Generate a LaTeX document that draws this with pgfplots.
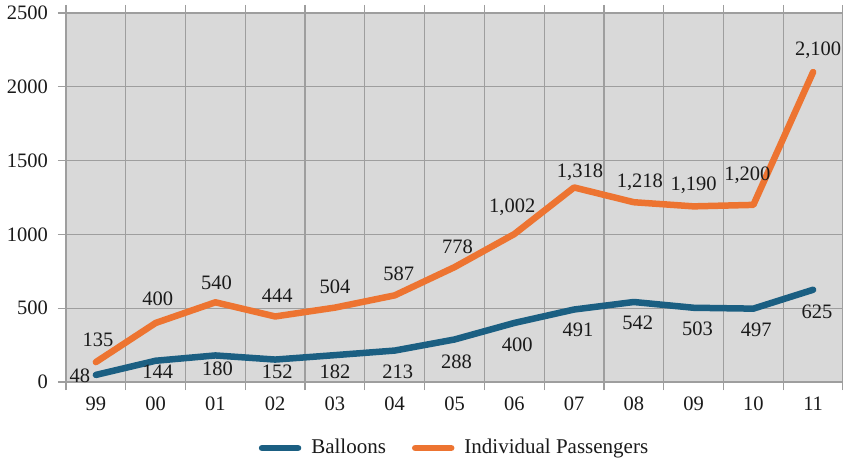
\documentclass[border=0pt]{standalone}
\usepackage{pgfplots}
\pgfplotsset{compat=1.18}
\usepackage{pgfplotstable}
\usepackage{fontspec}
\setmainfont{Liberation Serif}
\definecolor{cblue}{HTML}{1B5F82}
\definecolor{corange}{HTML}{ED7431}
\definecolor{cgrid}{HTML}{9E9E9E}
\definecolor{cbg}{HTML}{D9D9D9}
\definecolor{ctext}{HTML}{1A1A1A}
\pgfplotstableread{
x y dx dy
0 135 2 22
1 400 2 24
2 540 1 20
3 444 2 21
4 504 0 21
5 587 4 22
6 778 3 20
7 1002 -2 27
8 1318 6 15
9 1218 6 20
10 1190 0 21
11 1200 -6 30
12 2100 5 22
}\passengers
\pgfplotstableread{
x y dx dy
0 48 -16 -1
1 144 2 -11
2 180 2 -13
3 152 2 -12
4 182 0 -17
5 213 3 -21
6 288 2 -22
7 400 3 -22
8 491 4 -20
9 542 4 -21
10 503 4 -21
11 497 3 -21
12 625 4 -22
}\balloons
\begin{document}
\fontsize{20.5}{24}\selectfont
\begin{tikzpicture}
\begin{axis}[
  scale only axis,
  width=777pt, height=369pt,
  xmin=-0.5, xmax=12.5, ymin=0, ymax=2500,
  axis background/.style={fill=cbg},
  axis line style={draw=none},
  /pgf/number format/assume math mode=true,
  xtick={0,...,12},
  xticklabels={99,00,01,02,03,04,05,06,07,08,09,10,11},
  minor xtick={-0.5,0.5,...,12.5},
  ytick={0,500,1000,1500,2000,2500},
  yticklabel style={/pgf/number format/1000 sep={}, xshift=-3pt},
  tick align=outside,
  major tick length=8pt,
  minor tick length=8pt,
  every major x tick/.append style={draw=none},
  every minor x tick/.append style={draw=cgrid, line width=1.3pt},
  every major y tick/.append style={draw=cgrid, line width=1.3pt},
  xminorgrids=true, xmajorgrids=false, ymajorgrids=true,
  minor grid style={cgrid, line width=1.3pt},
  major grid style={cgrid, line width=1.3pt},
  tick label style={text=ctext, font=\fontsize{20.5}{24}\selectfont},
  legend style={at={(0.5,-0.179)}, anchor=center, draw=none, fill=none,
    legend columns=2, font=\fontsize{21}{25}\selectfont, text=ctext,
    /tikz/every even column/.append style={column sep=24pt}},
  legend image code/.code={\draw[#1, line cap=round] (0pt,0pt) -- (36pt,0pt); \path (44pt,0pt);},
  clip=false,
]
\addplot[cblue, line width=6.5pt, line cap=round, line join=round,
  nodes near coords, point meta=explicit,
  visualization depends on={\thisrow{dx} \as \dx},
  visualization depends on={\thisrow{dy} \as \dy},
  every node near coord/.append style={anchor=center, xshift=\dx pt, yshift=\dy pt, text=ctext, font=\fontsize{20.5}{24}\selectfont},
  forget plot] table[x=x, y=y, meta=y] {\balloons};
\addplot[corange, line width=6.5pt, line cap=round, line join=round,
  nodes near coords, point meta=explicit,
  visualization depends on={\thisrow{dx} \as \dx},
  visualization depends on={\thisrow{dy} \as \dy},
  every node near coord/.append style={anchor=center, xshift=\dx pt, yshift=\dy pt, text=ctext, font=\fontsize{20.5}{24}\selectfont},
  forget plot] table[x=x, y=y, meta=y] {\passengers};
\addlegendimage{cblue, line width=6.5pt}
\addlegendentry{Balloons}
\addlegendimage{corange, line width=6.5pt}
\addlegendentry{Individual Passengers}
\end{axis}
\pgfresetboundingbox
\path ([xshift=-66pt,yshift=-79pt]current axis.south west) rectangle ([yshift=13pt]current axis.north east);
\end{tikzpicture}
\end{document}
